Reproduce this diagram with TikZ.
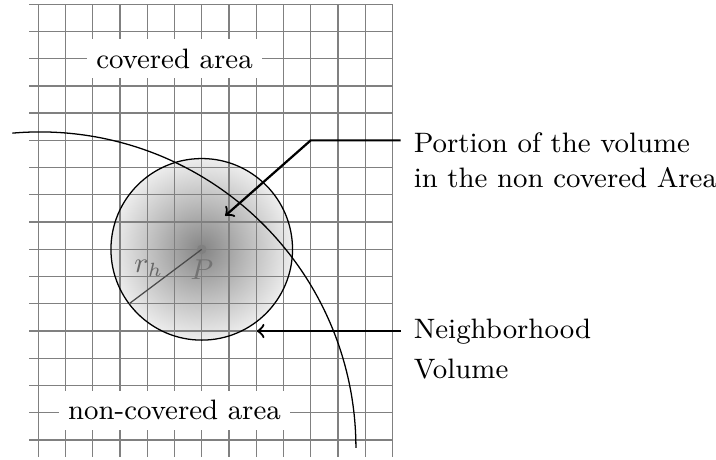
\documentclass[tikz,border=0pt]{standalone}
\pgfdeclareradialshading{nbshade}{\pgfpointorigin}{color(0bp)=(black!48); color(12.5bp)=(black!27); color(25bp)=(black!7); color(50bp)=(white)}
\begin{document}
\begin{tikzpicture}[x=0.3cm,y=0.3cm, font=\fontsize{8.8}{10.8}\selectfont,
  gridline/.style={gray, line width=0.4pt},
  arrowline/.style={->, line width=0.7pt},
  areatext/.style={fill=white, inner sep=3pt},
  sidetext/.style={anchor=base west, inner sep=0pt}]
\useasboundingbox (-1.406,-0.6975) rectangle (24.879,16.153);
\coordinate (P) at (6,7);
\shade[shading=nbshade] (P) circle (3.333);
\draw[gridline, step=0.3cm] (-0.34,-0.613) grid (13,16);
\draw (P) circle (3.333);
\fill[gray] (P) circle (1.5pt);
\draw[black!70, line width=0.4pt] (P) -- ++(216.87:3.333) coordinate (rh);
\node[text=black!55] (Plabel) at (6,6.24) {$P$};
\node[text=black!60] (rhlabel) at (4.06,6.31) {$r_h$};
\draw (0.06,-0.29) ++(95:11.6) arc[start angle=95, end angle=0, radius=11.6];
\node[areatext] (cov) at (5,14) {covered area};
\node[areatext] (noncov) at (5,1.09) {non-covered area};
\node[sidetext] (por1) at (13.76,10.56) {Portion of the volume};
\node[sidetext] (por2) at (13.76,9.26) {in the non covered Area};
\node[sidetext] (nb1) at (13.76,3.73) {Neighborhood};
\node[sidetext] (nb2) at (13.76,2.26) {Volume};
\coordinate (e1) at (13.3,11);
\coordinate (c1) at (10,11);
\coordinate (t1) at (6.86,8.23);
\coordinate (e2) at (13.3,4);
\coordinate (t2) at (8.02,4);
\draw[arrowline] (e1) -- (c1) -- (t1);
\draw[arrowline] (e2) -- (t2);
\end{tikzpicture}
\end{document}
